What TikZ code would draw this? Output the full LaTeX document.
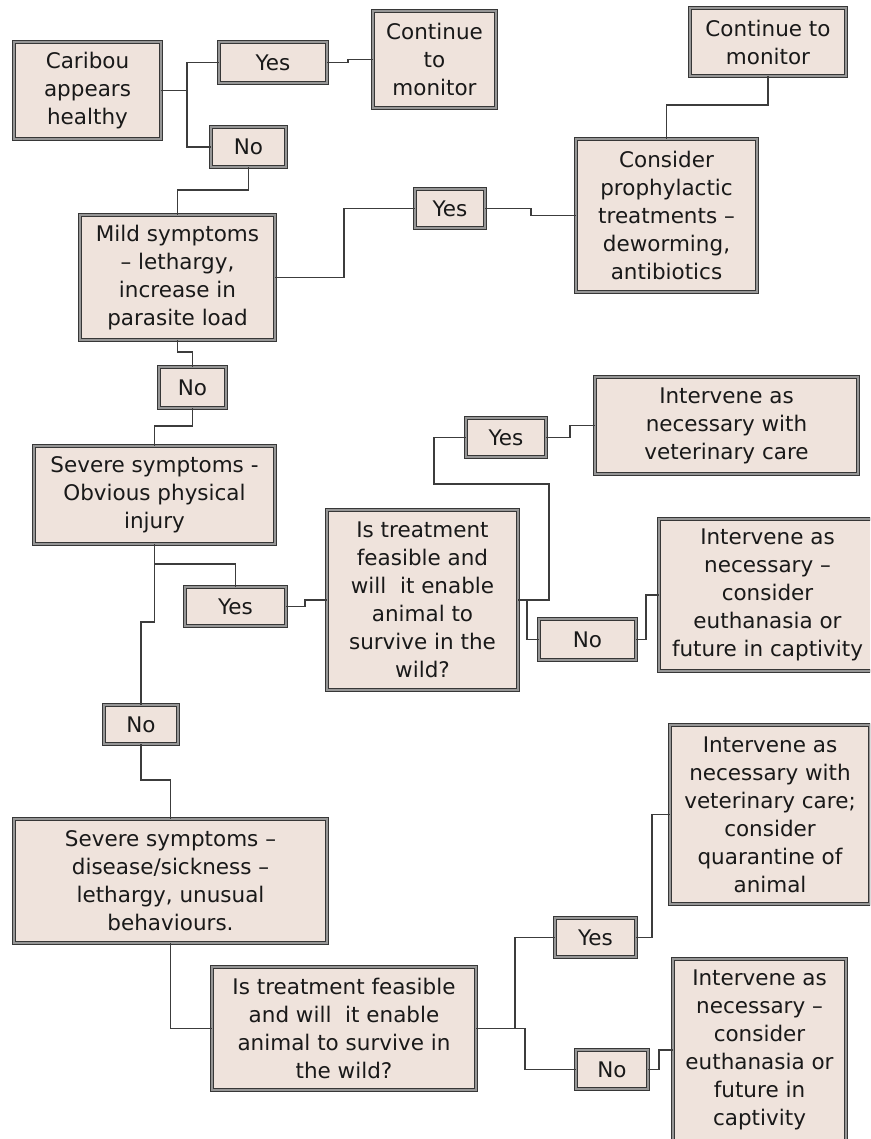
\documentclass[tikz,border=0pt]{standalone}
\usepackage{fontspec}
\setmainfont{DejaVu Sans}
\definecolor{boxfill}{RGB}{239,227,220}
\definecolor{boxline}{RGB}{55,55,55}
\definecolor{boxmid}{RGB}{150,150,150}
\definecolor{conn}{RGB}{60,60,60}
\definecolor{txt}{RGB}{25,25,25}
\begin{document}
\begin{tikzpicture}[x=1pt,y=-1pt,
  dbox/.style={draw=boxline, line width=1.1pt, double=boxmid, double distance=1.6pt,
    fill=boxfill, inner sep=0pt, outer sep=0pt, align=center, text=txt,
    font=\fontsize{21.5}{28}\selectfont},
  link/.style={draw=conn, line width=1.1pt}]
\useasboundingbox (0,0) rectangle (870,1139);
\clip (0,0) rectangle (870,1139);
% nodes
\node[dbox, minimum width=147pt, minimum height=97pt] (car) at (87.5,90.5) {Caribou\\appears\\healthy};
\node[dbox, minimum width=108pt, minimum height=41pt] (yes1) at (273,62.5) {Yes};
\node[dbox, minimum width=75pt, minimum height=40pt] (no1) at (248.5,147) {No};
\node[dbox, minimum width=123pt, minimum height=97pt] (cont1) at (434.5,59.5) {Continue\\to\\monitor};
\node[dbox, minimum width=156pt, minimum height=68pt] (cont2) at (768,42) {Continue to\\monitor};
\node[dbox, minimum width=195pt, minimum height=125pt] (mild) at (177.5,277.5) {Mild symptoms\\– lethargy,\\increase in\\parasite load};
\node[dbox, minimum width=70pt, minimum height=39pt] (yes2) at (450,208.5) {Yes};
\node[dbox, minimum width=181pt, minimum height=153pt] (cons) at (666.5,215.5) {Consider\\prophylactic\\treatments –\\deworming,\\antibiotics};
\node[dbox, minimum width=67pt, minimum height=41pt] (no2) at (192.5,387.5) {No};
\node[dbox, minimum width=241pt, minimum height=98pt] (sev1) at (154.5,495) {Severe symptoms -\\Obvious physical\\injury};
\node[dbox, minimum width=101pt, minimum height=39pt] (yes3) at (235.5,606.5) {Yes};
\node[dbox, minimum width=74pt, minimum height=39pt] (no3) at (141,724.5) {No};
\node[dbox, minimum width=191pt, minimum height=180pt] (tr1) at (422.5,600) {Is treatment\\feasible and\\will~ it enable\\animal to\\survive in the\\wild?};
\node[dbox, minimum width=80pt, minimum height=39pt] (yes4) at (506,437.5) {Yes};
\node[dbox, minimum width=97pt, minimum height=41pt] (no4) at (587.5,639.5) {No};
\node[dbox, minimum width=263pt, minimum height=97pt] (int1) at (726.5,425.5) {Intervene as\\necessary with\\veterinary care};
\node[dbox, minimum width=217pt, minimum height=152pt] (int2) at (767.5,595) {Intervene as\\necessary –\\consider\\euthanasia or\\future in captivity};
\node[dbox, minimum width=313pt, minimum height=124pt] (sev2) at (170.5,881) {Severe symptoms –\\disease/sickness –\\lethargy, unusual\\behaviours.};
\node[dbox, minimum width=264pt, minimum height=123pt] (tr2) at (344,1028.5) {Is treatment feasible\\and will~ it enable\\animal to survive in\\the wild?};
\node[dbox, minimum width=81pt, minimum height=39pt] (yes5) at (595.5,937.5) {Yes};
\node[dbox, minimum width=72pt, minimum height=39pt] (no5) at (612,1069.5) {No};
\node[dbox, minimum width=200pt, minimum height=179pt] (int3) at (770,814.5) {Intervene as\\necessary with\\veterinary care;\\consider\\quarantine of\\animal};
\node[dbox, minimum width=173pt, minimum height=182pt] (int4) at (759.5,1050) {Intervene as\\necessary –\\consider\\euthanasia or\\future in\\captivity};
% connectors
\draw[link] (car.east) -- ++(26,0) |- (yes1.west);
\draw[link] (car.east) -- ++(26,0) |- (no1.west);
\draw[link] (yes1.east) -- ++(21,0) |- (cont1.west);
\draw[link] (no1.south) -- ++(0,23) -| (mild.north);
\draw[link] (mild.east) -- ++(69,0) |- (yes2.west);
\draw[link] (yes2.east) -- ++(46,0) |- (cons.west);
\draw[link] (cont2.south) -- ++(0,29) -| (cons.north);
\draw[link] (mild.south) -- ++(0,12) -| (no2.north);
\draw[link] (no2.south) -- ++(0,18) -| (sev1.north);
\draw[link] (sev1.south) -- ++(0,20) -| (yes3.north);
\draw[link] (sev1.south) -- ++(0,78) -| (no3.north);
\draw[link] (yes3.east) -- ++(19,0) |- (tr1.west);
\draw[link] (tr1.east) -- ++(31,0) -- ++(0,-116) -- ++(-115,0) |- (yes4.west);
\draw[link] (tr1.east) -- ++(9,0) |- (no4.west);
\draw[link] (yes4.east) -- ++(24,0) |- (int1.west);
\draw[link] (no4.east) -- ++(10,0) |- (int2.west);
\draw[link] (no3.south) -- ++(0,36) -| (sev2.north);
\draw[link] (sev2.south) |- (tr2.west);
\draw[link] (tr2.east) -- ++(39,0) |- (yes5.west);
\draw[link] (tr2.east) -- ++(49,0) |- (no5.west);
\draw[link] (yes5.east) -- ++(16,0) |- (int3.west);
\draw[link] (no5.east) -- ++(11,0) |- (int4.west);
\end{tikzpicture}
\end{document}
